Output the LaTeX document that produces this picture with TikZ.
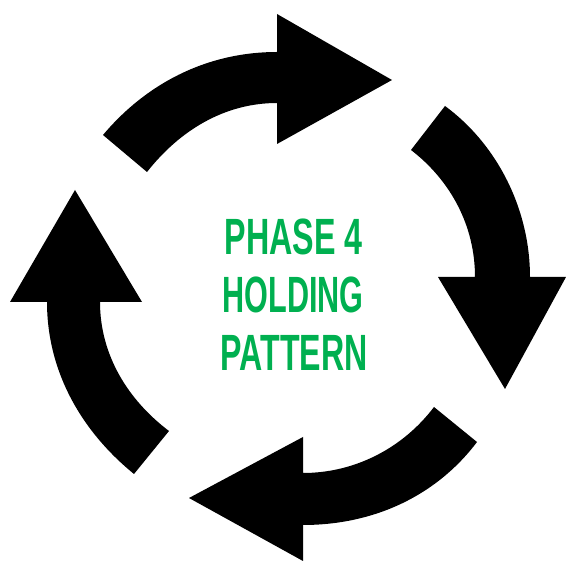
\documentclass[tikz,border=0pt]{standalone}
\usepackage{fontspec}
\setmainfont{Liberation Sans}
\usepackage{tikz}
\definecolor{phasegreen}{RGB}{0,176,80}
\tikzstyle{arrowblock}=[fill=black,draw=none]
\tikzstyle{phaselabel}=[text=phasegreen,font=\fontsize{51}{51}\selectfont\bfseries,inner sep=0pt,transform shape,anchor=center]

\begin{document}
\begin{tikzpicture}[x=1pt,y=-1pt]

		\useasboundingbox (0,0) rectangle (566,561);

		% arrows
		\fill[arrowblock] (103,135) .. controls (145,85) and (205,52) .. (277,52)
			-- (277,14) -- (392,80) -- (277,144) -- (277,103)
			.. controls (225,103) and (180,130) .. (147,172) -- cycle;
		\fill[arrowblock] (445,106) .. controls (498,145) and (530,210) .. (530,277)
			-- (566,277) -- (505,389) -- (438,277) -- (475,277)
			.. controls (475,225) and (450,180) .. (411,150) -- cycle;
		\fill[arrowblock] (477,442) .. controls (437,495) and (375,525) .. (303,525)
			-- (303,561) -- (189,498) -- (303,437) -- (303,473)
			.. controls (355,473) and (403,448) .. (434,407) -- cycle;
		\fill[arrowblock] (134,474) .. controls (80,430) and (47,370) .. (47,302)
			-- (10,302) -- (75,190) -- (142,302) -- (100,302)
			.. controls (100,355) and (128,400) .. (169,431) -- cycle;

		% text
		\node[phaselabel,xscale=0.632] (line1) at (293.5,237) {PHASE 4};
		\node[phaselabel,xscale=0.6] (line2) at (293,295) {HOLDING};
		\node[phaselabel,xscale=0.63] (line3) at (294,353) {PATTERN};

\end{tikzpicture}
\end{document}
